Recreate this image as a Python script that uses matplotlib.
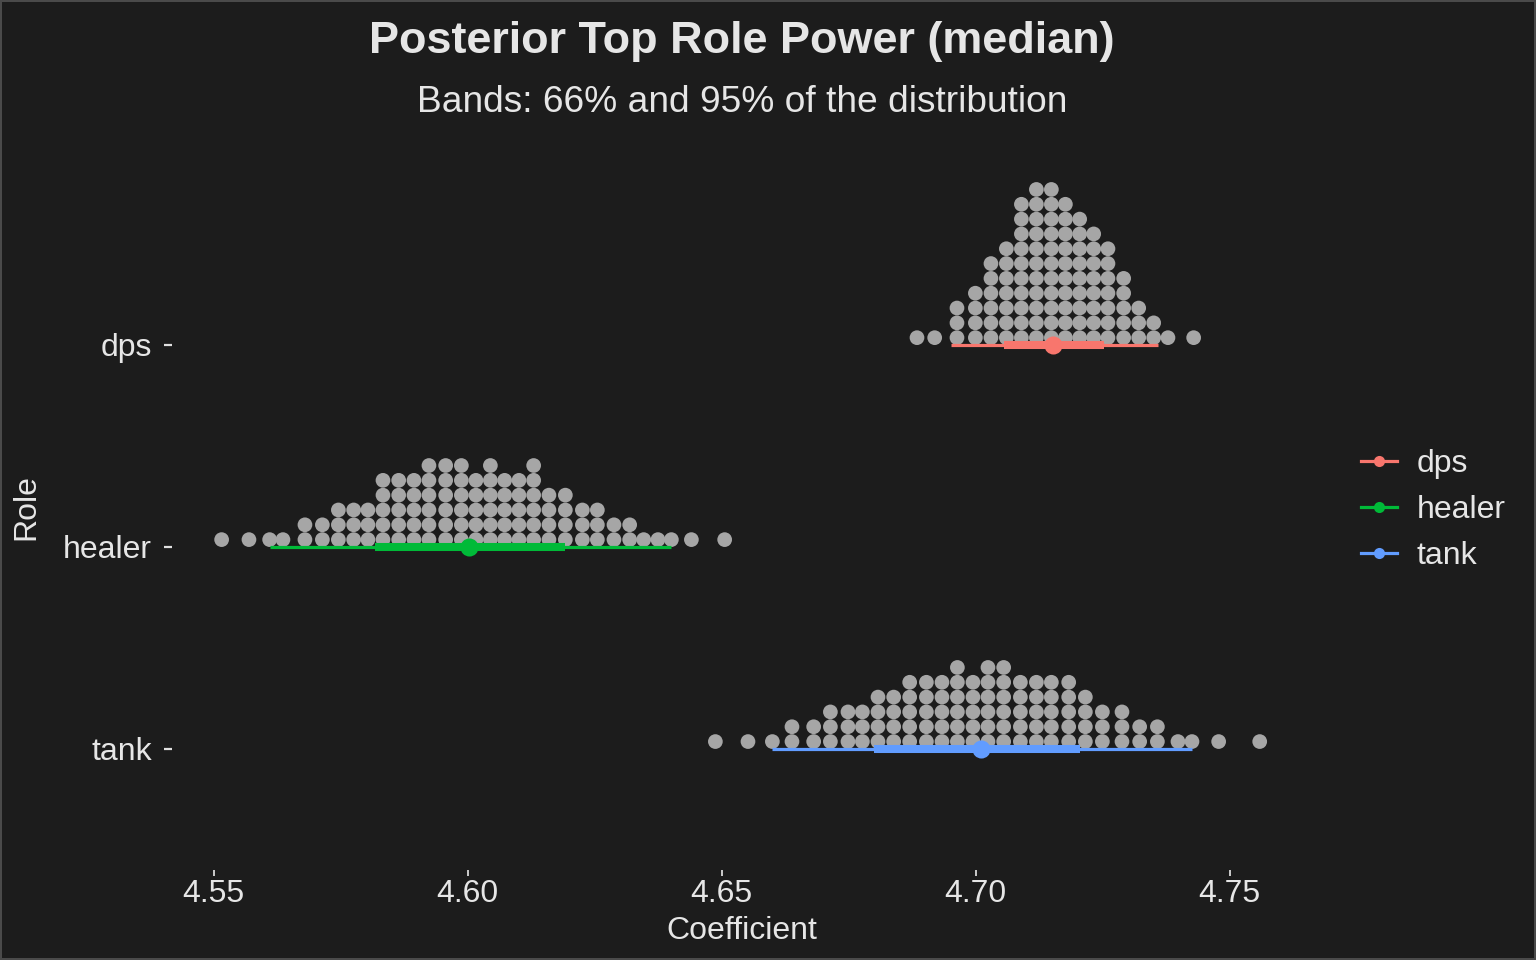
import numpy as np
import matplotlib
matplotlib.use("Agg")
import matplotlib.pyplot as plt
from matplotlib.lines import Line2D

# ---------------- data ----------------
roles = ["dps", "healer", "tank"]
role_colors = ["#F8766D", "#00BA38", "#619CFF"]

# dot columns (bin centres) and number of stacked dots per column
dps_cols = [4.68845, 4.69193, 4.69632, 4.69994, 4.70301, 4.70604, 4.70900, 4.71195,
            4.71490, 4.71766, 4.72047, 4.72323, 4.72604, 4.72913, 4.73209, 4.73504,
            4.73785, 4.74291]
dps_counts = [1, 1, 3, 4, 6, 7, 10, 11, 11, 10, 9, 8, 7, 5, 3, 2, 1, 1]

healer_cols = [4.55157, 4.55695, 4.56102, 4.56364, 4.56797, 4.57140, 4.57455, 4.57756,
               4.58037, 4.58333, 4.58642, 4.58943, 4.59238, 4.59567, 4.59876, 4.60163,
               4.60447, 4.60728, 4.61010, 4.61299, 4.61600, 4.61923, 4.62258, 4.62553,
               4.62880, 4.63189, 4.63465, 4.63746, 4.64010, 4.64404, 4.65059]
healer_counts = [1, 1, 1, 1, 2, 2, 3, 3, 3, 5, 5, 5, 6, 6, 6, 5, 6, 5, 5, 6, 4, 4, 3, 3,
                 2, 2, 1, 1, 1, 1, 1]

tank_cols = [4.64876, 4.65518, 4.65998, 4.66384, 4.66811, 4.67140, 4.67486, 4.67770,
             4.68077, 4.68386, 4.68701, 4.69030, 4.69337, 4.69640, 4.69947, 4.70242,
             4.70551, 4.70880, 4.71195, 4.71490, 4.71831, 4.72159, 4.72494, 4.72880,
             4.73228, 4.73577, 4.73982, 4.74258, 4.74783, 4.75591]
tank_counts = [1, 1, 1, 2, 2, 3, 3, 3, 4, 4, 5, 5, 5, 6, 5, 6, 6, 5, 5, 5, 5, 4, 3, 3,
               2, 2, 1, 1, 1, 1]

# median and interval bounds (95% and 66%)
medians = [4.7152, 4.6003, 4.7011]
lo95 = [4.6951, 4.5610, 4.6600]
hi95 = [4.7358, 4.6401, 4.7426]
lo66 = [4.7055, 4.5818, 4.6799]
hi66 = [4.7252, 4.6192, 4.7206]

x_ticks = [4.55, 4.60, 4.65, 4.70, 4.75]
x_ticklabels = ["4.55", "4.60", "4.65", "4.70", "4.75"]

title = "Posterior Top Role Power (median)"
subtitle = "Bands: 66% and 95% of the distribution"
xlabel = "Coefficient"
ylabel = "Role"

# ---------------- style ----------------
plt.rcParams["font.family"] = ["Liberation Sans", "DejaVu Sans"]
BG = "#1C1C1C"
TXT = "#E6E6E6"
DOT = "#A6A6A6"

fig = plt.figure(figsize=(15.36, 9.6), dpi=100)
fig.patch.set_facecolor(BG)
fig.patch.set_edgecolor("#4a4a4a")
fig.patch.set_linewidth(1.5)

ax = fig.add_axes([172 / 1536, 90 / 960, 1141 / 1536, 727 / 960])
ax.set_facecolor(BG)
for s in ax.spines.values():
    s.set_visible(False)

ypos = {"dps": 2, "healer": 1, "tank": 0}
dot_cols = {"dps": dps_cols, "healer": healer_cols, "tank": tank_cols}
dot_counts = {"dps": dps_counts, "healer": healer_counts, "tank": tank_counts}

row_step = 0.0734
row_off = 0.036

for r in roles:
    xs = np.repeat(dot_cols[r], dot_counts[r])
    ks = np.concatenate([np.arange(c) for c in dot_counts[r]])
    ys = ypos[r] + row_off + ks * row_step
    ax.scatter(xs, ys, s=112, color=DOT, edgecolors="none", zorder=2)

for i, r in enumerate(roles):
    y = ypos[r]
    c = role_colors[i]
    ax.plot([lo95[i], hi95[i]], [y, y], color=c, lw=2.3, solid_capstyle="butt", zorder=3)
    ax.plot([lo66[i], hi66[i]], [y, y], color=c, lw=5.8, solid_capstyle="butt", zorder=4)
    ax.plot([medians[i]], [y], "o", color=c, ms=13, mec="none", zorder=5)

ax.set_xlim(4.5418, 4.7664)
ax.set_ylim(-0.6, 3.0)
ax.set_xticks(x_ticks)
ax.set_xticklabels(x_ticklabels)
ax.set_yticks([ypos[r] for r in roles])
ax.set_yticklabels(roles)
ax.tick_params(axis="x", colors="#DADADA", labelcolor=TXT, labelsize=23,
               length=4.3, width=1.3, pad=2)
ax.tick_params(axis="y", colors="#E0E0E0", labelcolor=TXT, labelsize=23,
               length=5.8, width=1.6, pad=8.6)

fig.text(742 / 1536, 1 - 41 / 960, title, ha="center", va="center",
         fontsize=32.4, fontweight="bold", color=TXT)
fig.text(742 / 1536, 1 - 103 / 960, subtitle, ha="center", va="center",
         fontsize=26.7, color=TXT)
fig.text(742 / 1536, 1 - 931 / 960, xlabel, ha="center", va="center",
         fontsize=23, color=TXT)
fig.text(26 / 1536, 1 - 507 / 960, ylabel, ha="center", va="center",
         fontsize=23, color=TXT, rotation=90)

handles = [Line2D([0], [0], color=c, lw=2.3, marker="o", ms=8, mec="none")
           for c in role_colors]
leg = fig.legend(handles, roles, loc="center left",
                 bbox_to_anchor=(1361 / 1536, 1 - 510 / 960),
                 frameon=False, fontsize=23, handlelength=1.13,
                 handletextpad=0.6, labelspacing=0.51, borderpad=0,
                 borderaxespad=0)
for t in leg.get_texts():
    t.set_color(TXT)

fig.savefig("out.png", dpi=100, facecolor=BG, edgecolor="#4a4a4a")
